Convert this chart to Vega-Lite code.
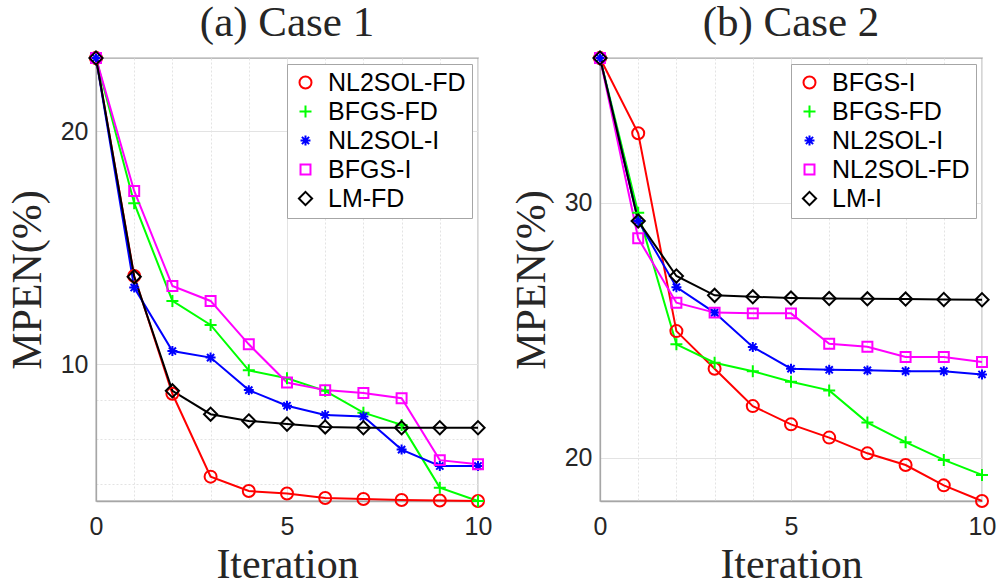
{
  "$schema": "https://vega.github.io/schema/vega-lite/v6.json",
  "background": "white",
  "padding": {"left": 5, "top": 1, "right": 5, "bottom": 0},
  "spacing": 16,
  "datasets": {
    "caseA": [
      {"series": "NL2SOL-FD", "iteration": 0, "mpen": 24.85}, {"series": "NL2SOL-FD", "iteration": 1, "mpen": 13.0}, {"series": "NL2SOL-FD", "iteration": 2, "mpen": 9.16}, {"series": "NL2SOL-FD", "iteration": 3, "mpen": 7.16}, {"series": "NL2SOL-FD", "iteration": 4, "mpen": 6.86}, {"series": "NL2SOL-FD", "iteration": 5, "mpen": 6.81}, {"series": "NL2SOL-FD", "iteration": 6, "mpen": 6.72}, {"series": "NL2SOL-FD", "iteration": 7, "mpen": 6.70}, {"series": "NL2SOL-FD", "iteration": 8, "mpen": 6.68}, {"series": "NL2SOL-FD", "iteration": 9, "mpen": 6.67}, {"series": "NL2SOL-FD", "iteration": 10, "mpen": 6.66},
      {"series": "BFGS-FD", "iteration": 0, "mpen": 24.85}, {"series": "BFGS-FD", "iteration": 1, "mpen": 16.14}, {"series": "BFGS-FD", "iteration": 2, "mpen": 12.07}, {"series": "BFGS-FD", "iteration": 3, "mpen": 11.24}, {"series": "BFGS-FD", "iteration": 4, "mpen": 9.82}, {"series": "BFGS-FD", "iteration": 5, "mpen": 9.59}, {"series": "BFGS-FD", "iteration": 6, "mpen": 9.24}, {"series": "BFGS-FD", "iteration": 7, "mpen": 8.66}, {"series": "BFGS-FD", "iteration": 8, "mpen": 8.35}, {"series": "BFGS-FD", "iteration": 9, "mpen": 6.93}, {"series": "BFGS-FD", "iteration": 10, "mpen": 6.66},
      {"series": "NL2SOL-I", "iteration": 0, "mpen": 24.85}, {"series": "NL2SOL-I", "iteration": 1, "mpen": 12.56}, {"series": "NL2SOL-I", "iteration": 2, "mpen": 10.40}, {"series": "NL2SOL-I", "iteration": 3, "mpen": 10.20}, {"series": "NL2SOL-I", "iteration": 4, "mpen": 9.26}, {"series": "NL2SOL-I", "iteration": 5, "mpen": 8.84}, {"series": "NL2SOL-I", "iteration": 6, "mpen": 8.60}, {"series": "NL2SOL-I", "iteration": 7, "mpen": 8.56}, {"series": "NL2SOL-I", "iteration": 8, "mpen": 7.76}, {"series": "NL2SOL-I", "iteration": 9, "mpen": 7.39}, {"series": "NL2SOL-I", "iteration": 10, "mpen": 7.39},
      {"series": "BFGS-I", "iteration": 0, "mpen": 24.85}, {"series": "BFGS-I", "iteration": 1, "mpen": 16.74}, {"series": "BFGS-I", "iteration": 2, "mpen": 12.62}, {"series": "BFGS-I", "iteration": 3, "mpen": 12.07}, {"series": "BFGS-I", "iteration": 4, "mpen": 10.61}, {"series": "BFGS-I", "iteration": 5, "mpen": 9.47}, {"series": "BFGS-I", "iteration": 6, "mpen": 9.26}, {"series": "BFGS-I", "iteration": 7, "mpen": 9.18}, {"series": "BFGS-I", "iteration": 8, "mpen": 9.04}, {"series": "BFGS-I", "iteration": 9, "mpen": 7.52}, {"series": "BFGS-I", "iteration": 10, "mpen": 7.43},
      {"series": "LM-FD", "iteration": 0, "mpen": 24.85}, {"series": "LM-FD", "iteration": 1, "mpen": 12.97}, {"series": "LM-FD", "iteration": 2, "mpen": 9.24}, {"series": "LM-FD", "iteration": 3, "mpen": 8.62}, {"series": "LM-FD", "iteration": 4, "mpen": 8.45}, {"series": "LM-FD", "iteration": 5, "mpen": 8.37}, {"series": "LM-FD", "iteration": 6, "mpen": 8.30}, {"series": "LM-FD", "iteration": 7, "mpen": 8.28}, {"series": "LM-FD", "iteration": 8, "mpen": 8.28}, {"series": "LM-FD", "iteration": 9, "mpen": 8.28}, {"series": "LM-FD", "iteration": 10, "mpen": 8.28}
    ],
    "caseB": [
      {"series": "BFGS-I", "iteration": 0, "mpen": 37.76}, {"series": "BFGS-I", "iteration": 1, "mpen": 33.5}, {"series": "BFGS-I", "iteration": 2, "mpen": 24.46}, {"series": "BFGS-I", "iteration": 3, "mpen": 23.04}, {"series": "BFGS-I", "iteration": 4, "mpen": 21.71}, {"series": "BFGS-I", "iteration": 5, "mpen": 21.09}, {"series": "BFGS-I", "iteration": 6, "mpen": 20.65}, {"series": "BFGS-I", "iteration": 7, "mpen": 20.14}, {"series": "BFGS-I", "iteration": 8, "mpen": 19.77}, {"series": "BFGS-I", "iteration": 9, "mpen": 19.14}, {"series": "BFGS-I", "iteration": 10, "mpen": 18.67},
      {"series": "BFGS-FD", "iteration": 0, "mpen": 37.76}, {"series": "BFGS-FD", "iteration": 1, "mpen": 29.53}, {"series": "BFGS-FD", "iteration": 2, "mpen": 23.95}, {"series": "BFGS-FD", "iteration": 3, "mpen": 23.26}, {"series": "BFGS-FD", "iteration": 4, "mpen": 22.95}, {"series": "BFGS-FD", "iteration": 5, "mpen": 22.57}, {"series": "BFGS-FD", "iteration": 6, "mpen": 22.26}, {"series": "BFGS-FD", "iteration": 7, "mpen": 21.15}, {"series": "BFGS-FD", "iteration": 8, "mpen": 20.50}, {"series": "BFGS-FD", "iteration": 9, "mpen": 19.93}, {"series": "BFGS-FD", "iteration": 10, "mpen": 19.46},
      {"series": "NL2SOL-I", "iteration": 0, "mpen": 37.76}, {"series": "NL2SOL-I", "iteration": 1, "mpen": 29.14}, {"series": "NL2SOL-I", "iteration": 2, "mpen": 26.23}, {"series": "NL2SOL-I", "iteration": 3, "mpen": 25.19}, {"series": "NL2SOL-I", "iteration": 4, "mpen": 23.85}, {"series": "NL2SOL-I", "iteration": 5, "mpen": 23.04}, {"series": "NL2SOL-I", "iteration": 6, "mpen": 23.0}, {"series": "NL2SOL-I", "iteration": 7, "mpen": 22.98}, {"series": "NL2SOL-I", "iteration": 8, "mpen": 22.95}, {"series": "NL2SOL-I", "iteration": 9, "mpen": 22.95}, {"series": "NL2SOL-I", "iteration": 10, "mpen": 22.83},
      {"series": "NL2SOL-FD", "iteration": 0, "mpen": 37.76}, {"series": "NL2SOL-FD", "iteration": 1, "mpen": 28.35}, {"series": "NL2SOL-FD", "iteration": 2, "mpen": 25.59}, {"series": "NL2SOL-FD", "iteration": 3, "mpen": 25.19}, {"series": "NL2SOL-FD", "iteration": 4, "mpen": 25.16}, {"series": "NL2SOL-FD", "iteration": 5, "mpen": 25.16}, {"series": "NL2SOL-FD", "iteration": 6, "mpen": 23.97}, {"series": "NL2SOL-FD", "iteration": 7, "mpen": 23.86}, {"series": "NL2SOL-FD", "iteration": 8, "mpen": 23.47}, {"series": "NL2SOL-FD", "iteration": 9, "mpen": 23.47}, {"series": "NL2SOL-FD", "iteration": 10, "mpen": 23.29},
      {"series": "LM-I", "iteration": 0, "mpen": 37.76}, {"series": "LM-I", "iteration": 1, "mpen": 29.14}, {"series": "LM-I", "iteration": 2, "mpen": 26.70}, {"series": "LM-I", "iteration": 3, "mpen": 25.89}, {"series": "LM-I", "iteration": 4, "mpen": 25.83}, {"series": "LM-I", "iteration": 5, "mpen": 25.78}, {"series": "LM-I", "iteration": 6, "mpen": 25.76}, {"series": "LM-I", "iteration": 7, "mpen": 25.75}, {"series": "LM-I", "iteration": 8, "mpen": 25.74}, {"series": "LM-I", "iteration": 9, "mpen": 25.72}, {"series": "LM-I", "iteration": 10, "mpen": 25.71}
    ]
  },
  "hconcat": [
    {
      "width": 382,
      "height": 443,
      "title": "(a) Case 1",
      "data": {"name": "caseA"},
      "encoding": {
        "x": {"field": "iteration", "type": "quantitative", "title": "Iteration",
              "scale": {"domain": [0, 10], "nice": false, "zero": false},
              "axis": {"values": [0, 1, 2, 3, 4, 5, 6, 7, 8, 9, 10], "labelExpr": "datum.value % 5 === 0 ? datum.label : ''",
                       "gridDash": {"condition": {"test": "datum.value % 5 !== 0", "value": [2, 2]}, "value": []}}},
        "y": {"field": "mpen", "type": "quantitative", "title": "MPEN(%)",
              "scale": {"type": "log", "domain": [6.66, 24.85], "nice": false, "zero": false},
              "axis": {"values": [7, 8, 9, 10, 20], "labelExpr": "datum.value === 10 || datum.value === 20 ? datum.label : ''",
                       "gridDash": {"condition": {"test": "datum.value < 10", "value": [2, 2]}, "value": []}}}
      },
      "layer": [
        {
          "mark": {"type": "line", "strokeWidth": 2},
          "encoding": {
            "stroke": {"field": "series", "type": "nominal", "legend": null,
                       "scale": {"domain": ["LM-FD", "BFGS-I", "NL2SOL-I", "BFGS-FD", "NL2SOL-FD"], "range": ["#000000", "#ff00ff", "#0000ff", "#00ff00", "#ff0000"]}}
          }
        },
        {
          "mark": {"type": "point", "filled": false, "size": 144, "strokeWidth": 2, "opacity": 1},
          "encoding": {
            "color": {"field": "series", "type": "nominal", "title": null,
                      "scale": {"domain": ["NL2SOL-FD", "BFGS-FD", "NL2SOL-I", "BFGS-I", "LM-FD"], "range": ["#ff0000", "#00ff00", "#0000ff", "#ff00ff", "#000000"]}},
            "shape": {"field": "series", "type": "nominal", "title": null,
                      "scale": {"domain": ["NL2SOL-FD", "BFGS-FD", "NL2SOL-I", "BFGS-I", "LM-FD"],
                                "range": ["M1,0A1,1 0 1,1 -1,0A1,1 0 1,1 1,0Z", "M-1,0H1M0,-1V1", "M-0.83,0H0.83M0,-0.83V0.83M-0.6,-0.6L0.6,0.6M-0.6,0.6L0.6,-0.6", "M-0.83,-0.83H0.83V0.83H-0.83Z", "M0,-1.1L1.1,0L0,1.1L-1.1,0Z"]}}
          }
        }
      ]
    },
    {
      "width": 382,
      "height": 443,
      "title": "(b) Case 2",
      "data": {"name": "caseB"},
      "encoding": {
        "x": {"field": "iteration", "type": "quantitative", "title": "Iteration",
              "scale": {"domain": [0, 10], "nice": false, "zero": false},
              "axis": {"values": [0, 1, 2, 3, 4, 5, 6, 7, 8, 9, 10], "labelExpr": "datum.value % 5 === 0 ? datum.label : ''",
                       "gridDash": {"condition": {"test": "datum.value % 5 !== 0", "value": [2, 2]}, "value": []}}},
        "y": {"field": "mpen", "type": "quantitative", "title": "MPEN(%)",
              "scale": {"type": "log", "domain": [18.67, 37.76], "nice": false, "zero": false},
              "axis": {"values": [20, 30]}}
      },
      "layer": [
        {
          "mark": {"type": "line", "strokeWidth": 2},
          "encoding": {
            "stroke": {"field": "series", "type": "nominal", "legend": null,
                       "scale": {"domain": ["LM-I", "NL2SOL-FD", "NL2SOL-I", "BFGS-FD", "BFGS-I"], "range": ["#000000", "#ff00ff", "#0000ff", "#00ff00", "#ff0000"]}}
          }
        },
        {
          "mark": {"type": "point", "filled": false, "size": 144, "strokeWidth": 2, "opacity": 1},
          "encoding": {
            "color": {"field": "series", "type": "nominal", "title": null,
                      "scale": {"domain": ["BFGS-I", "BFGS-FD", "NL2SOL-I", "NL2SOL-FD", "LM-I"], "range": ["#ff0000", "#00ff00", "#0000ff", "#ff00ff", "#000000"]}},
            "shape": {"field": "series", "type": "nominal", "title": null,
                      "scale": {"domain": ["BFGS-I", "BFGS-FD", "NL2SOL-I", "NL2SOL-FD", "LM-I"],
                                "range": ["M1,0A1,1 0 1,1 -1,0A1,1 0 1,1 1,0Z", "M-1,0H1M0,-1V1", "M-0.83,0H0.83M0,-0.83V0.83M-0.6,-0.6L0.6,0.6M-0.6,0.6L0.6,-0.6", "M-0.83,-0.83H0.83V0.83H-0.83Z", "M0,-1.1L1.1,0L0,1.1L-1.1,0Z"]}}
          }
        }
      ]
    }
  ],
  "resolve": {"scale": {"color": "independent", "stroke": "independent", "shape": "independent", "x": "independent", "y": "independent"}},
  "config": {
    "font": "Liberation Sans",
    "view": {"stroke": "#a6a6a6", "strokeWidth": 1.3},
    "axis": {
      "domainColor": "#a6a6a6", "domainWidth": 1.3,
      "labelFont": "Liberation Sans", "labelFontSize": 25, "labelColor": "#262626", "labelPadding": 13,
      "labelFlush": false, "labelOverlap": false,
      "titleFont": "Liberation Serif", "titleFontSize": 42, "titleFontWeight": "normal", "titleColor": "#262626", "titlePadding": 5,
      "ticks": false, "tickSize": 0,
      "grid": true, "gridColor": "#e3e3e3", "gridWidth": 1
    },
    "axisY": {"labelPadding": 8, "titlePadding": 11},
    "title": {"font": "Liberation Serif", "fontSize": 43, "fontWeight": "normal", "color": "#262626", "offset": 2},
    "legend": {
      "orient": "top-right", "offset": 6, "padding": 6,
      "strokeColor": "#a6a6a6", "fillColor": "white",
      "labelFont": "Liberation Sans", "labelFontSize": 25, "labelColor": "#000000", "labelLimit": 300,
      "labelOffset": 10, "rowPadding": 3,
      "symbolSize": 144, "symbolStrokeWidth": 2
    }
  }
}
